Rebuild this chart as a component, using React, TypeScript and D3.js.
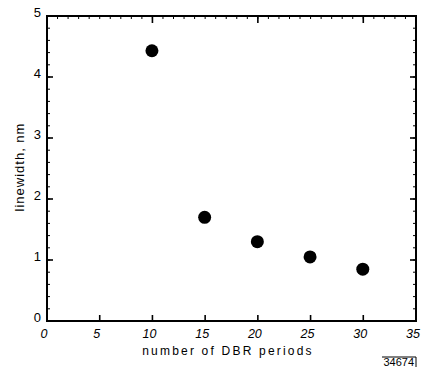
import * as d3 from "d3";
import { useEffect, useRef } from "react";

const periods = [10, 15, 20, 25, 30];
const linewidths = [4.43, 1.7, 1.3, 1.05, 0.85];
const xTicks = [0, 5, 10, 15, 20, 25, 30, 35];
const yTicks = [0, 1, 2, 3, 4, 5];

export default function App() {
  const ref = useRef<SVGSVGElement | null>(null);

  useEffect(() => {
    if (!ref.current) return;
    const width = 422;
    const height = 367;
    const margin = { top: 16, right: 6, bottom: 46, left: 47 };

    const svg = d3.select(ref.current);
    svg.selectAll("*").remove();

    const x = d3.scaleLinear().domain([0, 35]).range([margin.left, width - margin.right]);
    const y = d3.scaleLinear().domain([0, 5]).range([height - margin.bottom, margin.top]);

    const font = "'Liberation Sans', Arial, sans-serif";

    // minor ticks
    const yMinor = d3.range(0, 5.01, 0.2);
    const xMinor = d3.range(0, 35.01, 1);
    const g = svg.append("g").attr("stroke", "#000");
    g.selectAll("line.ym")
      .data(yMinor)
      .join("line")
      .attr("x1", x(0))
      .attr("x2", x(0) + 3)
      .attr("y1", (d) => y(d))
      .attr("y2", (d) => y(d))
      .attr("stroke-width", 1);
    g.selectAll("line.yr")
      .data(yMinor)
      .join("line")
      .attr("x1", x(35))
      .attr("x2", x(35) - 3)
      .attr("y1", (d) => y(d))
      .attr("y2", (d) => y(d))
      .attr("stroke-width", 1);
    g.selectAll("line.xt")
      .data(xMinor)
      .join("line")
      .attr("x1", (d) => x(d))
      .attr("x2", (d) => x(d))
      .attr("y1", y(5))
      .attr("y2", y(5) + 3)
      .attr("stroke-width", 1);

    // major ticks
    g.selectAll("line.xb")
      .data(xTicks)
      .join("line")
      .attr("x1", (d) => x(d))
      .attr("x2", (d) => x(d))
      .attr("y1", y(0))
      .attr("y2", y(0) - 6)
      .attr("stroke-width", 1.6);
    g.selectAll("line.xtop")
      .data([10, 20, 30])
      .join("line")
      .attr("x1", (d) => x(d))
      .attr("x2", (d) => x(d))
      .attr("y1", y(5))
      .attr("y2", y(5) + 7)
      .attr("stroke-width", 1.6);
    g.selectAll("line.yl")
      .data(yTicks)
      .join("line")
      .attr("x1", x(0))
      .attr("x2", x(0) + 6)
      .attr("y1", (d) => y(d))
      .attr("y2", (d) => y(d))
      .attr("stroke-width", 1.6);
    g.selectAll("line.yrt")
      .data(yTicks)
      .join("line")
      .attr("x1", x(35))
      .attr("x2", x(35) - 6)
      .attr("y1", (d) => y(d))
      .attr("y2", (d) => y(d))
      .attr("stroke-width", 1.6);

    // frame
    svg.append("rect")
      .attr("x", x(0))
      .attr("y", y(5))
      .attr("width", x(35) - x(0))
      .attr("height", y(0) - y(5))
      .attr("fill", "none")
      .attr("stroke", "#000")
      .attr("stroke-width", 2);

    // tick labels
    svg.append("g")
      .selectAll("text")
      .data(xTicks)
      .join("text")
      .attr("x", (d) => x(d) - 3)
      .attr("y", y(0) + 17)
      .attr("text-anchor", "middle")
      .attr("font-family", font)
      .attr("font-style", "italic")
      .attr("font-size", 12.5)
      .text((d) => d);

    svg.append("g")
      .selectAll("text")
      .data(yTicks)
      .join("text")
      .attr("x", x(0) - 6)
      .attr("y", (d) => y(d) + 1)
      .attr("text-anchor", "end")
      .attr("font-family", font)
      .attr("font-size", 13)
      .text((d) => d);

    // axis titles
    svg.append("text")
      .attr("x", 228)
      .attr("y", 355)
      .attr("text-anchor", "middle")
      .attr("font-family", font)
      .attr("font-size", 12)
      .attr("letter-spacing", 2.2)
      .text("number of DBR periods");

    svg.append("text")
      .attr("transform", `translate(24,167) rotate(-90)`)
      .attr("text-anchor", "middle")
      .attr("font-family", font)
      .attr("font-size", 13)
      .attr("letter-spacing", 1)
      .text("linewidth, nm");

    // figure number
    svg.append("text")
      .attr("x", 414)
      .attr("y", 366)
      .attr("text-anchor", "end")
      .attr("font-family", font)
      .attr("font-size", 11)
      .text("34674");
    svg.append("path")
      .attr("d", "M382,357 H416 V367")
      .attr("fill", "none")
      .attr("stroke", "#000")
      .attr("stroke-width", 1);

    // points
    svg.append("g")
      .selectAll("circle")
      .data(periods)
      .join("circle")
      .attr("cx", (d) => x(d) - 0.5)
      .attr("cy", (_, i) => y(linewidths[i]))
      .attr("r", 6.5)
      .attr("fill", "#000");
  }, []);

  return (
    <svg
      ref={ref}
      width={422}
      height={367}
      style={{ position: "absolute", left: 0, top: 0, background: "#fff" }}
    ></svg>
  );
}
